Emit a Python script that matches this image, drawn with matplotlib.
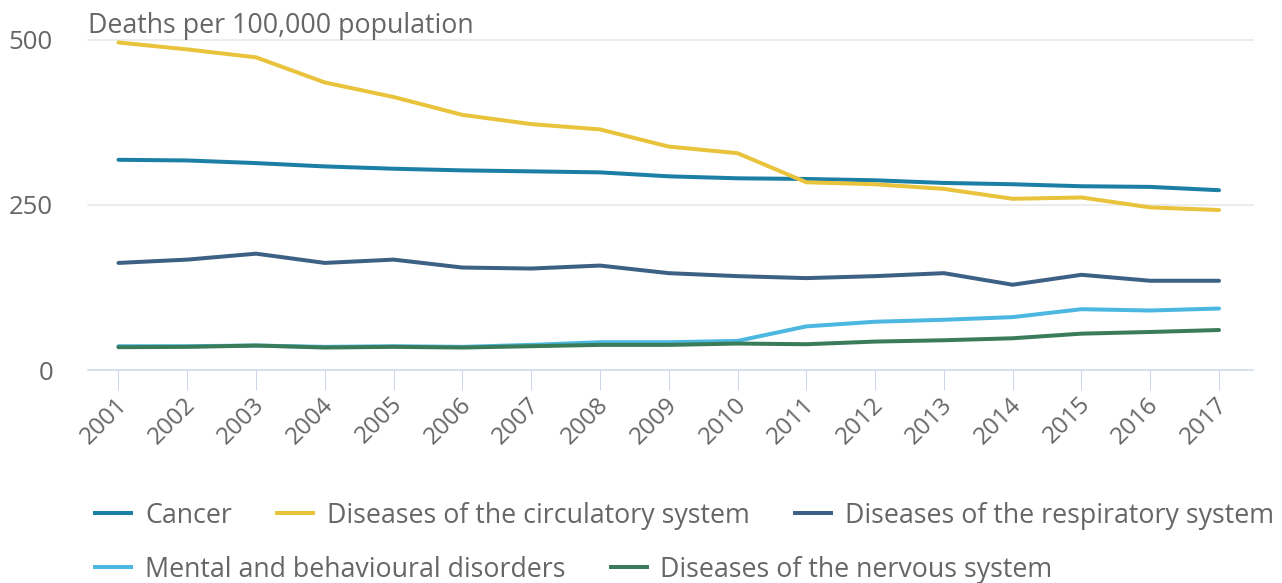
import matplotlib
matplotlib.use("Agg")
import matplotlib.pyplot as plt
import matplotlib.transforms as mtransforms
from matplotlib.lines import Line2D

plt.rcParams['font.family'] = ['Open Sans', 'DejaVu Sans']

years = list(range(2001, 2018))

cancer = [318, 317, 313, 308, 304.5, 302, 300.5, 299, 293, 290, 289, 287, 283, 281, 278, 277, 272]
circulatory = [495.5, 485, 473, 435, 413, 386, 372, 364, 338, 328, 284, 281, 274, 259, 261, 246, 242]
respiratory = [162, 167, 176, 162, 167, 155, 153.5, 158, 146.5, 142, 139, 142, 146.5, 129, 144, 135, 135]
mental = [36, 36, 37, 35, 36, 35, 38, 42, 42, 44, 66, 73, 76, 80, 92, 90, 93]
nervous = [34.5, 35, 37, 34, 35, 34, 36, 38, 38, 40, 39, 43, 45, 48, 55, 57.5, 60.5]

series_names = ["Cancer", "Diseases of the circulatory system",
                "Diseases of the respiratory system",
                "Mental and behavioural disorders",
                "Diseases of the nervous system"]
series_values = [cancer, circulatory, respiratory, mental, nervous]
series_colors = ["#1b7fa6", "#e8c33b", "#3c6185", "#4cb7e0", "#3a7c5a"]

y_ticks = [0, 250, 500]
title_text = "Deaths per 100,000 population"

W, H = 1282, 583
DPI = 100
PX = 72.0 / DPI  # points per pixel
text_grey = "#666666"

fig = plt.figure(figsize=(W / DPI, H / DPI), dpi=DPI)
ax = fig.add_axes([88 / W, 1 - 370 / H, (1253 - 88) / W, (370 - 39.5) / H])

for vals, col in zip(series_values, series_colors):
    ax.plot(years, vals, color=col, lw=4 * PX, solid_joinstyle='round',
            solid_capstyle='round', clip_on=False, zorder=3)

ax.set_xlim(2000.557, 2017.494)
ax.set_ylim(0, 500)

for s in ['top', 'right', 'left']:
    ax.spines[s].set_visible(False)
ax.spines['bottom'].set_color('#ccd6eb')
ax.spines['bottom'].set_linewidth(1.5 * PX)
ax.spines['bottom'].set_zorder(1)

ax.set_yticks(y_ticks)
ax.set_yticklabels([str(v) for v in y_ticks])
ax.tick_params(axis='y', length=0, pad=35 * PX, labelsize=18.5, labelcolor=text_grey)
ax.yaxis.grid(True, color='#e6e6e6', lw=1.5 * PX)
ax.set_axisbelow(True)
for gl in ax.get_ygridlines():
    gl.set_clip_on(False)
ax.get_ygridlines()[0].set_visible(False)

ax.set_xticks(years)
ax.set_xticklabels([str(y) for y in years])
ax.tick_params(axis='x', length=20 * PX, width=1 * PX, color='#ccd6eb',
               pad=11 * PX, labelsize=17.5, labelcolor=text_grey)
shift = mtransforms.ScaledTranslation(5 / DPI, 0, fig.dpi_scale_trans)
for lab in ax.get_xticklabels():
    lab.set_rotation(45)
    lab.set_rotation_mode('anchor')
    lab.set_ha('right')
    lab.set_va('center')
    lab.set_transform(lab.get_transform() + shift)

fig.text(88 / W, 1 - 33 / H, title_text, fontsize=19.3, color=text_grey,
         ha='left', va='baseline')

# legend laid out left to right, wrapping onto a new row when full
renderer = fig.canvas.get_renderer()
x0, x, row_y = 95, 95, 513
sym_w, sym_gap, item_gap, row_h = 36, 14, 45, 54
for name, col in zip(series_names, series_colors):
    t = fig.text(0, 0, name, fontsize=19.3, color=text_grey, ha='left', va='center')
    tw = t.get_window_extent(renderer).width
    if x > x0 and x + sym_w + sym_gap + tw > W:
        x = x0
        row_y += row_h
    fig.add_artist(Line2D([x / W, (x + sym_w) / W], [1 - row_y / H, 1 - row_y / H],
                          color=col, lw=4 * PX, transform=fig.transFigure))
    t.set_position(((x + sym_w + sym_gap) / W, 1 - (row_y + 3) / H))
    x += sym_w + sym_gap + tw + item_gap

fig.savefig("out.png", dpi=DPI)
